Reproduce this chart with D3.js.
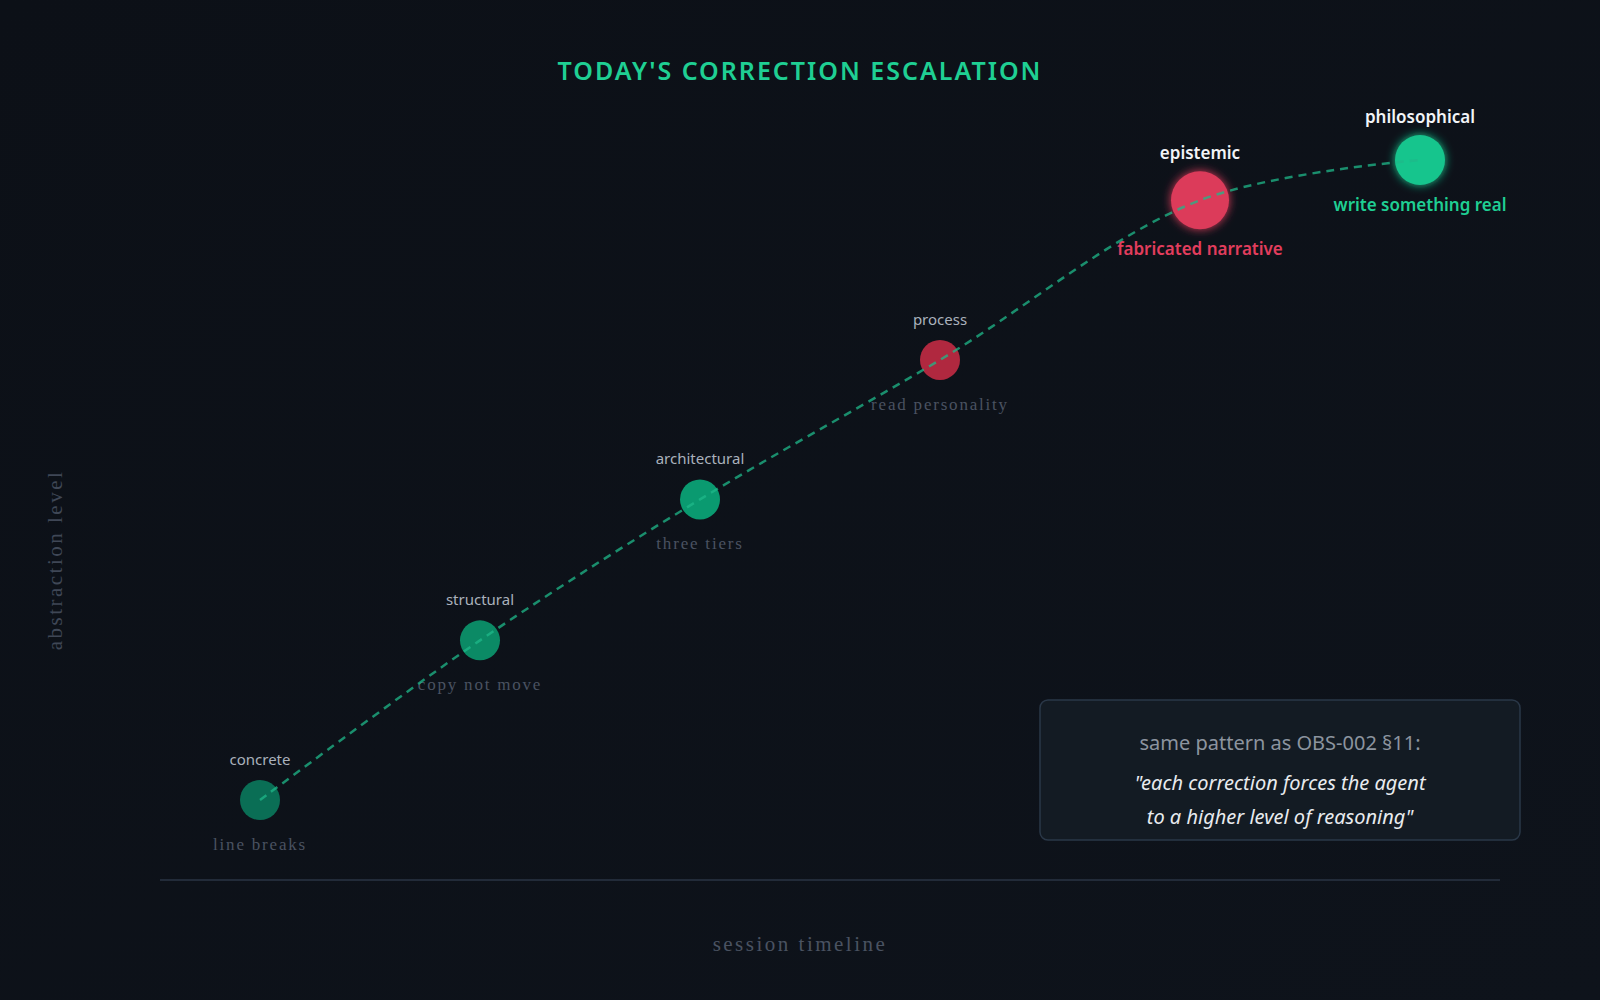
<!DOCTYPE html><html><head><meta charset="utf-8"><script src="https://cdn.jsdelivr.net/npm/d3@7"></script>
<style>body{margin:0;background:#0d1119;}svg{display:block}</style></head><body><svg id="c" width="1600" height="1000"></svg><script>
const stages=["concrete","structural","architectural","process","epistemic","philosophical"];
const notes=["line breaks","copy not move","three tiers","read personality","fabricated narrative","write something real"];
const levels=[1,2.11,3.09,4.06,5.17,5.45];
const kinds=["g","g","g","r","r","g"];
const svg=d3.select("#c");
const defs=svg.append("defs");
const lg=defs.append("linearGradient").attr("id","bg").attr("x1",0).attr("y1",0).attr("x2",1).attr("y2",1);
lg.append("stop").attr("offset",0).attr("stop-color","#0c1017");lg.append("stop").attr("offset",1).attr("stop-color","#0e131b");
const f=defs.append("filter").attr("id","glow").attr("x","-50%").attr("y","-50%").attr("width","200%").attr("height","200%");
f.append("feGaussianBlur").attr("stdDeviation",5).attr("result","b");
const m=f.append("feMerge");m.append("feMergeNode").attr("in","b");m.append("feMergeNode").attr("in","SourceGraphic");
svg.append("rect").attr("width",1600).attr("height",1000).attr("fill","url(#bg)");
const y=d3.scaleLinear().domain([1,5.45]).range([800,160]);
const xi=d3.scaleLinear().domain([0,1,2,3,4,5]).range([260,480,700,940,1200,1420]);
svg.append("text").attr("x",800).attr("y",80).attr("text-anchor","middle").attr("fill","#1fcf93").attr("font-family","Noto Sans").attr("font-size",25).attr("font-weight",600).attr("letter-spacing",2).text("TODAY'S CORRECTION ESCALATION");
svg.append("line").attr("x1",160).attr("x2",1500).attr("y1",880).attr("y2",880).attr("stroke","#2a3444").attr("stroke-width",1.5);
svg.append("text").attr("x",800).attr("y",951).attr("text-anchor","middle").attr("fill","#4a5261").attr("font-family","Liberation Serif").attr("letter-spacing",2.5).attr("font-size",21).text("session timeline");
svg.append("text").attr("transform","translate(62,560) rotate(-90)").attr("text-anchor","middle").attr("fill","#3f4756").attr("font-family","Liberation Serif").attr("letter-spacing",2.5).attr("font-size",21).text("abstraction level");
const fills=["#0a6e55","#0b8a65","#0a9a70","#b0283f","#dc3a5a","#16c58d"];
const radii=[20,20,20,20,29,25];
const g=svg.append("g");
stages.forEach((s,i)=>{
  const cx=xi(i),cy=y(levels[i]);
  const c=g.append("circle").attr("cx",cx).attr("cy",cy).attr("r",radii[i]).attr("fill",fills[i]);
  if(i>=4)c.attr("filter","url(#glow)");
  const top=i>=4;
  g.append("text").attr("x",cx).attr("y",cy-radii[i]-(top?12:15)).attr("text-anchor","middle").attr("fill",top?"#f2f4f7":"#aab1bc").attr("font-family","Noto Sans").attr("font-size",top?17:15).attr("font-weight",top?600:400).text(s);
  const nt=g.append("text").attr("x",cx).attr("y",cy+radii[i]+(top?26:30)).attr("text-anchor","middle");
  if(top) nt.attr("fill",kinds[i]=="r"?"#e23d5d":"#1fcf93").attr("font-family","Noto Sans").attr("font-size",17).attr("font-weight",600).text(notes[i]);
  else nt.attr("fill","#4a5261").attr("font-family","Liberation Serif").attr("letter-spacing",1.8).attr("font-size",17).text(notes[i]);
});
const line=d3.line().x((d,i)=>xi(i)).y(d=>y(d)).curve(d3.curveCatmullRom.alpha(0.5));
svg.append("path").attr("d",line(levels)).attr("fill","none").attr("stroke","#1fb88a").attr("stroke-opacity",0.75).attr("stroke-width",2.5).attr("stroke-dasharray","8,6");
svg.append("rect").attr("x",1040).attr("y",700).attr("width",480).attr("height",140).attr("rx",8).attr("fill","#131b23").attr("stroke","#2a3848").attr("stroke-width",1.5);
svg.append("text").attr("x",1280).attr("y",750).attr("text-anchor","middle").attr("fill","#8c949f").attr("font-family","Noto Sans").attr("font-size",20).text("same pattern as OBS-002 §11:");
svg.append("text").attr("x",1280).attr("y",790).attr("text-anchor","middle").attr("fill","#e8ebef").attr("font-family","Noto Sans").attr("font-style","italic").attr("font-size",20).text("\"each correction forces the agent");
svg.append("text").attr("x",1280).attr("y",824).attr("text-anchor","middle").attr("fill","#e8ebef").attr("font-family","Noto Sans").attr("font-style","italic").attr("font-size",20).text("to a higher level of reasoning\"");
</script></body></html>
